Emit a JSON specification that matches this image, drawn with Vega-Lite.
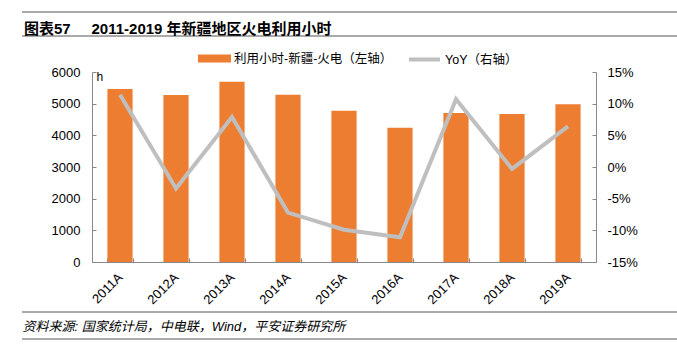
{
  "$schema": "https://vega.github.io/schema/vega-lite/v6.json",
  "width": 504,
  "height": 190,
  "autosize": {"type": "none"},
  "padding": {"left": 92, "top": 72, "right": 81, "bottom": 89},
  "background": "white",
  "config": {
    "view": {"stroke": null},
    "font": "Liberation Sans, Noto Sans CJK SC"
  },
  "title": {
    "text": "图表57\u00a0\u00a0\u00a0\u00a0\u00a02011-2019 年新疆地区火电利用小时",
    "anchor": "start",
    "frame": "group",
    "fontSize": 15,
    "fontWeight": "bold",
    "color": "#000000",
    "dx": -68,
    "dy": 45,
    "offset": 20
  },
  "data": {
    "values": [
      {"year": "2011A", "hours": 5460, "yoy": 11.4},
      {"year": "2012A", "hours": 5275, "yoy": -3.4},
      {"year": "2013A", "hours": 5690, "yoy": 7.9},
      {"year": "2014A", "hours": 5285, "yoy": -7.2},
      {"year": "2015A", "hours": 4780, "yoy": -9.9},
      {"year": "2016A", "hours": 4240, "yoy": -11.1},
      {"year": "2017A", "hours": 4705, "yoy": 10.7},
      {"year": "2018A", "hours": 4675, "yoy": -0.3},
      {"year": "2019A", "hours": 4980, "yoy": 6.4}
    ]
  },
  "resolve": {"scale": {"y": "independent"}},
  "layer": [
    {
      "mark": {"type": "bar"},
      "encoding": {
        "x": {
          "field": "year",
          "type": "ordinal",
          "scale": {"paddingInner": 0.55, "paddingOuter": 0.275},
          "axis": {
            "title": "资料来源: 国家统计局，中电联，Wind，平安证券研究所",
            "titleFontStyle": "italic",
            "titleFontWeight": "normal",
            "titleFontSize": 13,
            "titleColor": "#000000",
            "titleX": -70,
            "titleY": 68,
            "titleAlign": "left",
            "titleBaseline": "alphabetic",
            "titleAnchor": null,
            "labelAngle": -45,
            "labelAlign": "right",
            "labelBaseline": "middle",
            "labelFontSize": 13,
            "labelColor": "#000000",
            "labelPadding": 17,
            "tickBand": "extent",
            "tickSize": -4,
            "tickColor": "#888888",
            "domainColor": "#888888"
          }
        },
        "y": {
          "field": "hours",
          "type": "quantitative",
          "scale": {"domain": [0, 6000]},
          "axis": {
            "values": [0, 1000, 2000, 3000, 4000, 5000, 6000],
            "format": "d",
            "grid": false,
            "title": "h",
            "titleAngle": 0,
            "titleAlign": "left",
            "titleBaseline": "alphabetic",
            "titleX": 4,
            "titleY": 8,
            "titleFontSize": 12,
            "titleFontWeight": "normal",
            "titleColor": "#000000",
            "labelFontSize": 13,
            "labelColor": "#000000",
            "labelPadding": 16,
            "tickSize": -4,
            "tickColor": "#888888",
            "domainColor": "#888888"
          }
        },
        "fill": {
          "datum": "利用小时-新疆-火电（左轴）",
          "type": "nominal",
          "scale": {"range": ["#ED7D31"]},
          "legend": {
            "orient": "none",
            "legendX": 106,
            "legendY": -30,
            "title": null,
            "symbolType": "M-1,-0.24H1V0.24H-1Z",
            "symbolSize": 1089,
            "symbolStrokeWidth": 0,
            "labelFontSize": 12.5,
            "labelColor": "#000000",
            "labelOffset": 3
          }
        }
      }
    },
    {
      "mark": {"type": "line", "strokeWidth": 4},
      "encoding": {
        "x": {"field": "year", "type": "ordinal"},
        "y": {
          "field": "yoy",
          "type": "quantitative",
          "scale": {"domain": [-15, 15]},
          "axis": {
            "orient": "right",
            "values": [-15, -10, -5, 0, 5, 10, 15],
            "labelExpr": "datum.value + '%'",
            "grid": false,
            "title": null,
            "labelFontSize": 13,
            "labelColor": "#000000",
            "labelPadding": 15,
            "tickSize": -4,
            "tickColor": "#888888",
            "domainColor": "#888888"
          }
        },
        "stroke": {
          "datum": "YoY（右轴）",
          "type": "nominal",
          "scale": {"range": ["#BFBFBF"]},
          "legend": {
            "orient": "none",
            "legendX": 315,
            "legendY": -30,
            "title": null,
            "symbolType": "stroke",
            "symbolSize": 961,
            "symbolStrokeWidth": 4,
            "labelFontSize": 12.5,
            "labelColor": "#000000",
            "labelOffset": 3
          }
        }
      }
    },
    {
      "data": {"values": [{}]},
      "mark": {"type": "rule", "color": "#555555", "strokeWidth": 1},
      "encoding": {"x": {"value": -70}, "x2": {"value": 585}, "y": {"value": -60}}
    },
    {
      "data": {"values": [{}]},
      "mark": {"type": "rule", "color": "#555555", "strokeWidth": 1},
      "encoding": {"x": {"value": -70}, "x2": {"value": 585}, "y": {"value": -36}}
    },
    {
      "data": {"values": [{}]},
      "mark": {"type": "rule", "color": "#555555", "strokeWidth": 1},
      "encoding": {"x": {"value": -70}, "x2": {"value": 585}, "y": {"value": 240}}
    },
    {
      "data": {"values": [{}]},
      "mark": {"type": "rule", "color": "#555555", "strokeWidth": 1},
      "encoding": {"x": {"value": -70}, "x2": {"value": 585}, "y": {"value": 267}}
    }
  ]
}
